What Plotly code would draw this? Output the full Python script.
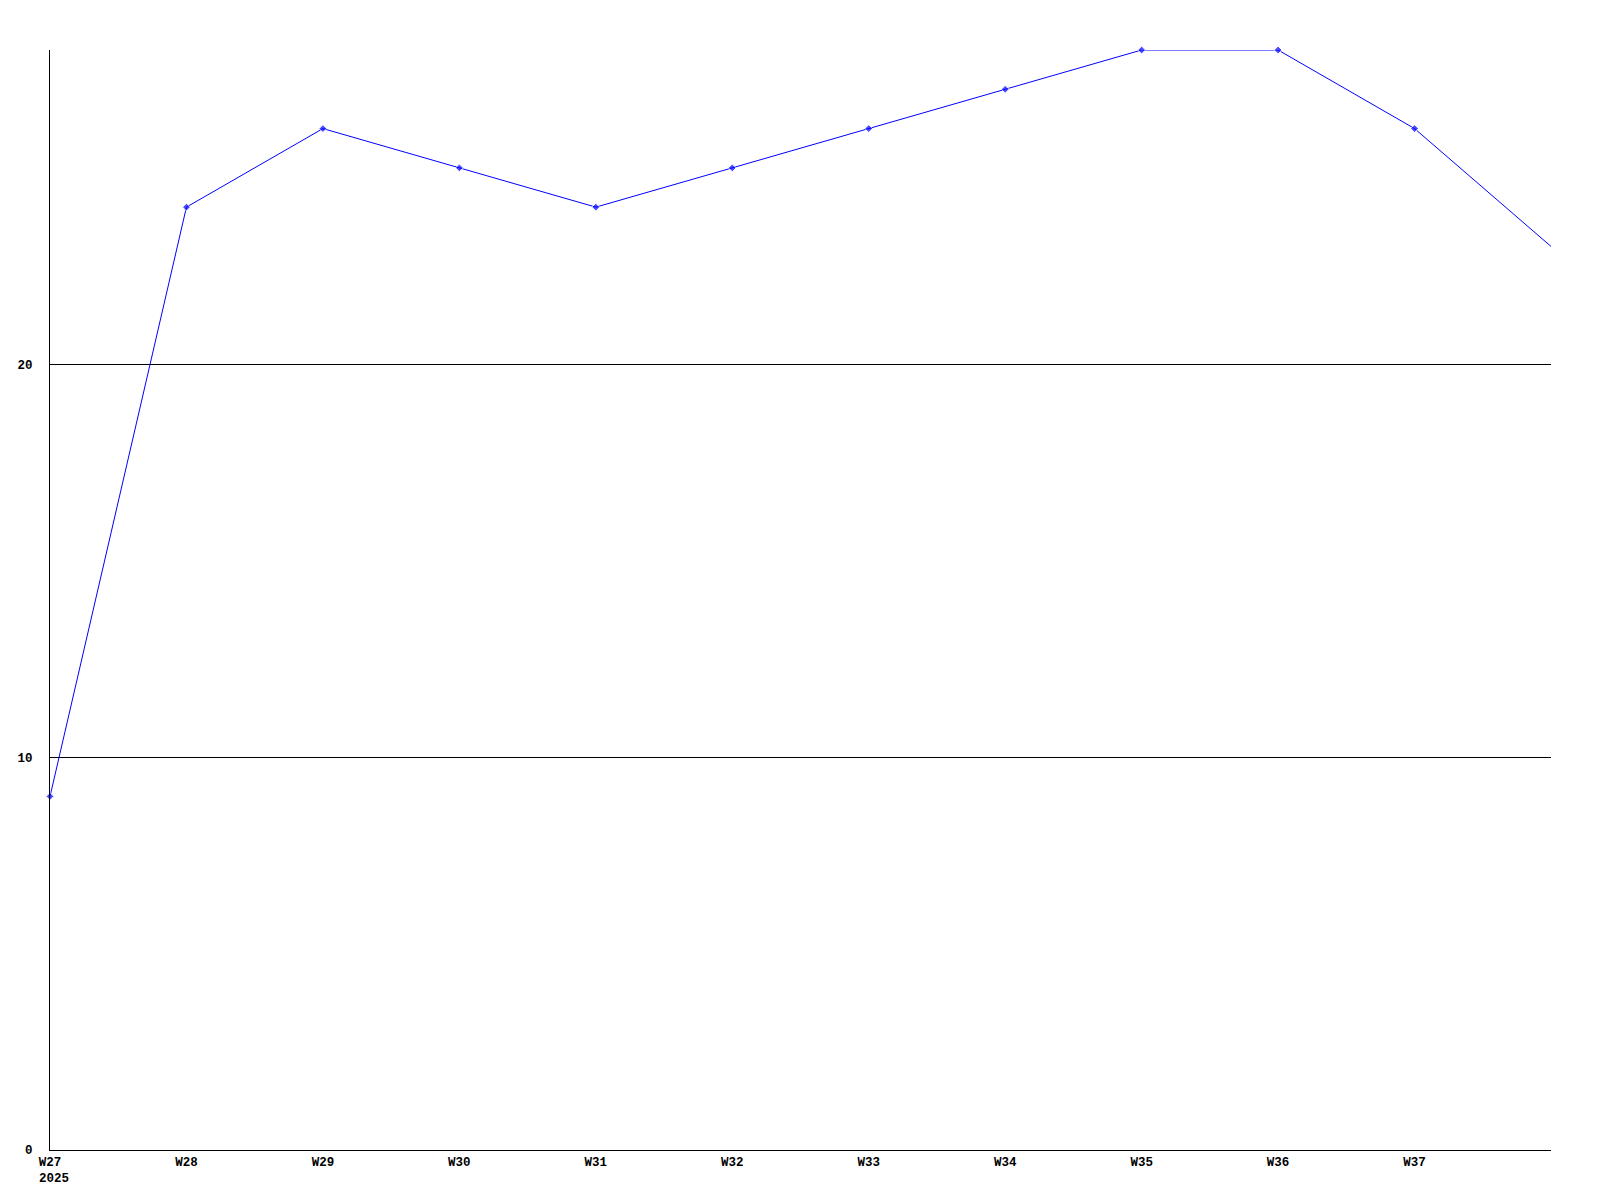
import plotly.graph_objects as go

weeks = ["W27", "W28", "W29", "W30", "W31", "W32", "W33", "W34", "W35", "W36", "W37", "W38"]
values = [9, 24, 26, 25, 24, 25, 26, 27, 28, 28, 26, 23]
tick_labels = weeks[:-1]
year_label = "2025"

x = list(range(len(weeks)))
marker_sizes = [6] * (len(weeks) - 1) + [0]

fig = go.Figure()
fig.add_trace(go.Scatter(
    x=x, y=values, mode="lines+markers",
    line=dict(color="#0000FF", width=1),
    marker=dict(color="#0000FF", size=marker_sizes, symbol="diamond"),
    cliponaxis=False,
    hoverinfo="skip",
))

font = dict(family="Liberation Mono, DejaVu Sans Mono, monospace", size=12.5, color="black")

fig.update_layout(
    width=1600, height=1200,
    margin=dict(l=42, r=57, t=42, b=58),
    paper_bgcolor="white", plot_bgcolor="white",
    showlegend=False,
    font=font,
    xaxis=dict(
        range=[0, len(weeks) - 1],
        tickmode="array", tickvals=x[:-1], ticktext=["<b>%s</b>" % t for t in tick_labels],
        showgrid=False, zeroline=False,
        showline=True, linecolor="black", linewidth=1,
        ticks="", tickfont=font, automargin=False,
    ),
    yaxis=dict(
        range=[0, 28],
        tickmode="array", tickvals=[0, 10, 20], ticktext=["<b>0</b>", "<b>10</b>", "<b>20</b>"],
        showgrid=True, gridcolor="black", gridwidth=1,
        zeroline=False,
        showline=True, linecolor="black", linewidth=1,
        ticks="", ticklabelstandoff=14, tickfont=font, automargin=False,
    ),
)

fig.add_annotation(
    x=0, y=0, xref="x", yref="y",
    text="<b>%s</b>" % year_label, showarrow=False,
    xanchor="left", yanchor="top", xshift=-13, yshift=-20,
    font=font,
)

fig.write_html("out.html")
